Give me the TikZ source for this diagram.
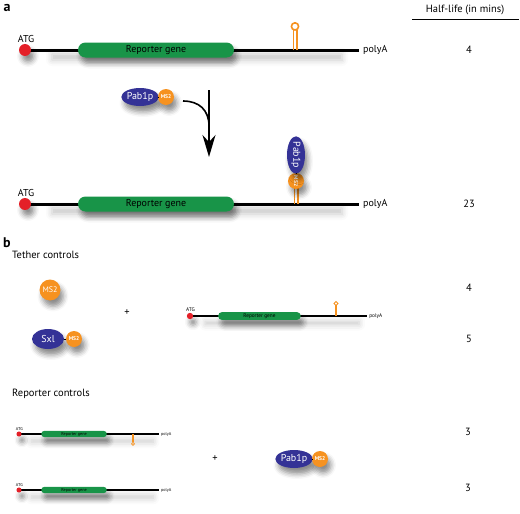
\documentclass[tikz,border=0pt]{standalone}
\usepackage{fontspec}
\setmainfont{PT Sans}
\usetikzlibrary{shapes.geometric,shadows.blur,arrows.meta}
\definecolor{genegreen}{RGB}{24,148,72}
\definecolor{protblue}{RGB}{52,50,150}
\definecolor{msorange}{RGB}{246,146,32}
\definecolor{atgred}{RGB}{228,32,40}
\tikzset{
  sh/.style={blur shadow={shadow xshift=3pt, shadow yshift=-6pt, shadow blur radius=5pt, shadow opacity=45}},
  genebox/.style={fill=genegreen, inner sep=0pt, sh},
  atgdot/.style={circle, fill=atgred, inner sep=0pt, sh},
  lbl/.style={inner sep=1},
  shstrip/.style={rectangle, inner sep=0pt, blur shadow={shadow xshift=2pt, shadow yshift=-6pt, shadow blur radius=6pt, shadow opacity=22}},
  pab/.style={ellipse, fill=protblue, text=white, inner sep=0pt, font=\fontsize{10}{12}\selectfont, sh},
  msc/.style={circle, fill=msorange, text=white, inner sep=0pt, font=\fontsize{5.5}{6}\selectfont\bfseries, sh},
  num/.style={inner sep=0pt, font=\fontsize{10.5}{12}\selectfont},
  head/.style={inner sep=0pt, font=\fontsize{10.5}{12}\selectfont, anchor=west},
  panel/.style={inner sep=0pt, font=\fontsize{14}{14}\selectfont\bfseries},
  linkline/.style={line width=1pt},
}
% #1 prefix, #2 scale, #3 line width, #4 font size
\newcommand\mkconstruct[4]{%
  \coordinate (#1l) at (0,0);
  \coordinate (#1r) at (334*#2,0);
  \node[shstrip, minimum width=290*#2, minimum height=6*#2] (#1strip) at (170*#2,1) {};
  \draw[line width=#3] (#1l) -- (#1r);
  \node[atgdot, minimum size=12*#2] (#1dot) at (#1l) {};
  \node[lbl, anchor=south, font=\fontsize{#4}{#4}\selectfont] (#1atg) at (1*#2,-6*#2) {ATG};
  \node[genebox, minimum width=156*#2, minimum height=15*#2, rounded corners=7.5*#2,
        font=\fontsize{#4}{#4}\selectfont] (#1gene) at (131*#2,0) {Reporter gene};
  \node[lbl, anchor=west, inner sep=4*#2, font=\fontsize{#4}{#4}\selectfont] (#1pa) at (#1r) {polyA};
}
% #1 name, #2 x, #3 line width, #4 scale, #5 direction (-1 up, 1 down)
\newcommand\mkstem[5]{%
  \coordinate (#1) at (#2,0);
  \draw[msorange, line width=#3] (#2-1.7*#4,0) -- (#2-1.7*#4,#5*20*#4) (#2+1.7*#4,0) -- (#2+1.7*#4,#5*20*#4);
  \draw[msorange, line width=#3] (#2,#5*23.6*#4) circle (3.6*#4);
}
\begin{document}
\begin{tikzpicture}[x=1pt, y=-1pt]
\useasboundingbox (0,0) rectangle (520,514);
% ---- panel a ----
\node[panel] (pa) at (7,8) {a};
\node[num] (hl) at (465,10) {Half-life (in mins)};
\coordinate (ulA) at (412,19);
\coordinate (ulB) at (519,19);
\draw[line width=0.8] (ulA) -- (ulB);
% top construct
\begin{scope}[shift={(25,50)}]
  \mkconstruct{c1}{1}{3pt}{10}
  \mkstem{c1stem}{270}{1.6pt}{1}{-1}
\end{scope}
\node[num] (n1) at (469,50) {4};
% Pab1p-MS2 free
\node[pab, minimum width=34, minimum height=18] (pfree) at (140,97) {Pab1p};
\node[msc, minimum size=16] (mfree) at (166,97) {MS2};
\draw[linkline] (pfree) -- (mfree);
% arrow
\coordinate (cstart) at (183,101);
\coordinate (cjoin) at (209,126);
\coordinate (atop) at (209,90);
\coordinate (atip) at (209,157);
\draw[line width=1.6] (cstart) .. controls (199,101) and (209,110) .. (cjoin);
\draw[line width=1.6, -{Stealth[length=22pt, width=13pt, inset=7pt]}] (atop) -- (atip);
% bound construct
\begin{scope}[shift={(25,204)}]
  \mkconstruct{c2}{1}{3pt}{10}
  \coordinate (c2stem) at (271,0);
  \draw[msorange, line width=1.6pt] (269.3,0) -- (269.3,-20) (272.7,0) -- (272.7,-20);
\end{scope}
\node[msc, minimum size=16, rotate=-90] (mbound) at (296,181) {MS2};
\node[pab, minimum width=34, minimum height=18, rotate=-90] (pbound) at (296,155) {Pab1p};
\draw[linkline] (pbound) -- (mbound);
\node[num] (n2) at (469,204) {23};
% ---- panel b ----
\node[panel] (pb) at (7,243) {b};
\node[head] (tc) at (12,255) {Tether controls};
\node[msc, minimum size=21, font=\fontsize{8}{9}\selectfont] (mso) at (50,290) {MS2};
\node[pab, minimum width=32, minimum height=20] (sxl) at (48,339) {Sxl};
\node[msc, minimum size=16] (msx) at (74,339) {MS2};
\draw[linkline] (sxl) -- (msx);
\node[num] (plus1) at (127,313) {+};
\begin{scope}[shift={(190,316)}]
  \mkconstruct{c3}{0.53}{1.6pt}{5.3}
  \mkstem{c3stem}{146}{0.9pt}{0.53}{-1}
\end{scope}
\node[num] (n3) at (469,288) {4};
\node[num] (n4) at (469,339) {5};
% reporter controls
\node[head] (rc) at (12,394) {Reporter controls};
\begin{scope}[shift={(19,434)}]
  \mkconstruct{c4}{0.42}{1.3pt}{4.2}
  \mkstem{c4stem}{114}{0.8pt}{0.42}{1}
\end{scope}
\begin{scope}[shift={(19,490)}]
  \mkconstruct{c5}{0.42}{1.3pt}{4.2}
\end{scope}
\node[num] (plus2) at (215,459) {+};
\node[pab, minimum width=33, minimum height=18] (prc) at (294,459) {Pab1p};
\node[msc, minimum size=16] (mrc) at (320,459) {MS2};
\draw[linkline] (prc) -- (mrc);
\node[num] (n5) at (468,432) {3};
\node[num] (n6) at (468,488) {3};
\end{tikzpicture}
\end{document}
